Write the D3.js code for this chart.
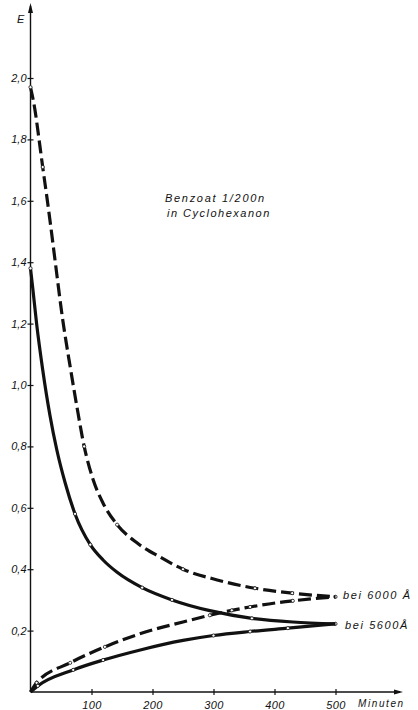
<!DOCTYPE html>
<html>
<head>
<meta charset="utf-8">
<script src="https://cdn.jsdelivr.net/npm/d3@7"></script>
<style>
  html, body { margin: 0; padding: 0; background: #fff; }
  svg { display: block; }
  text { font-family: "Liberation Sans", Arial, sans-serif; font-style: italic; fill: #111; }
</style>
</head>
<body>
<svg id="chart" width="418" height="710"></svg>
<script>
// Extinction E of benzoate 1/200n in cyclohexanone over time (minutes)
// 6000 Å: falling branch and rising branch (dashed)
const fall6000Min = [0, 7, 14, 20, 27, 33, 40, 53, 65, 76, 88, 103, 119, 142, 175, 212, 250, 306, 368, 429, 500];
const fall6000E   = [1.97, 1.90, 1.80, 1.71, 1.61, 1.52, 1.41, 1.21, 1.06, 0.93, 0.80, 0.69, 0.615, 0.545, 0.485, 0.44, 0.40, 0.365, 0.338, 0.322, 0.31];
const fall6000Dot = [1, 0, 0, 1, 0, 0, 0, 0, 0, 0, 1, 0, 0, 1, 0, 0, 1, 0, 1, 1, 1];

const rise6000Min = [0, 10, 65, 122, 191, 250, 294, 330, 360, 409, 430, 500];
const rise6000E   = [0, 0.03, 0.095, 0.147, 0.197, 0.228, 0.25, 0.266, 0.277, 0.292, 0.297, 0.31];
const rise6000Dot = [0, 1, 1, 1, 0, 0, 1, 1, 1, 0, 1, 0];

// 5600 Å: falling branch and rising branch (solid)
const fall5600Min = [0, 4, 10, 20, 32, 43, 57, 73, 98, 119, 142, 183, 232, 294, 363, 430, 500];
const fall5600E   = [1.38, 1.31, 1.20, 1.05, 0.90, 0.79, 0.68, 0.58, 0.48, 0.43, 0.39, 0.34, 0.30, 0.265, 0.24, 0.228, 0.222];
const fall5600Dot = [1, 0, 0, 0, 0, 0, 0, 1, 1, 0, 0, 1, 1, 0, 1, 0, 1];

const rise5600Min = [0, 12, 70, 119, 180, 250, 300, 360, 422, 500];
const rise5600E   = [0, 0.02, 0.072, 0.104, 0.137, 0.168, 0.184, 0.197, 0.208, 0.222];
const rise5600Dot = [0, 1, 1, 1, 0, 0, 1, 1, 1, 0];

const xTicks = [100, 200, 300, 400, 500];
const yTicks = [0.2, 0.4, 0.6, 0.8, 1.0, 1.2, 1.4, 1.6, 1.8, 2.0];
const fmtE = d => d.toFixed(1).replace(".", ",");

const svg = d3.select("#chart");
const x = d3.scaleLinear().domain([0, 500]).range([30.5, 335.5]);
const y = d3.scaleLinear().domain([0, 2]).range([692, 78]);

const ink = "#111";

// Axes with arrow heads
const x0 = x(0), y0 = y(0);
svg.append("line").attr("x1", x0).attr("y1", y0).attr("x2", x0).attr("y2", 6)
  .attr("stroke", ink).attr("stroke-width", 1.4);
svg.append("path").attr("d", `M${x0},3 L${x0 - 2.5},13 L${x0 + 2.5},13 Z`).attr("fill", ink);
svg.append("line").attr("x1", x0).attr("y1", y0).attr("x2", 400).attr("y2", y0)
  .attr("stroke", ink).attr("stroke-width", 1.4);
svg.append("path").attr("d", `M403,${y0} L394,${y0 - 2.5} L394,${y0 + 2.5} Z`).attr("fill", ink);

// Tick marks and labels
const yAxis = d3.axisLeft(y).tickValues(yTicks).tickFormat(fmtE).tickSize(3).tickPadding(3);
const gy = svg.append("g").attr("transform", `translate(${x0},0)`).call(yAxis);
gy.select(".domain").remove();
gy.selectAll(".tick line").attr("x2", 3).attr("x1", -3).attr("stroke", ink).attr("stroke-width", 1.2);
gy.selectAll(".tick text").attr("font-size", 11).attr("font-family", "Liberation Sans, Arial, sans-serif")
  .attr("font-style", "italic").attr("fill", ink).attr("x", -4);

const xAxis = d3.axisBottom(x).tickValues(xTicks).tickSize(3).tickPadding(6);
const gx = svg.append("g").attr("transform", `translate(0,${y0})`).call(xAxis);
gx.select(".domain").remove();
gx.selectAll(".tick line").attr("y1", -3).attr("y2", 3).attr("stroke", ink).attr("stroke-width", 1.2);
gx.selectAll(".tick text").attr("font-size", 11).attr("font-family", "Liberation Sans, Arial, sans-serif")
  .attr("font-style", "italic").attr("fill", ink).attr("letter-spacing", 0.4);

svg.append("text").attr("x", 17).attr("y", 23).attr("font-size", 11).text("E");
svg.append("text").attr("x", 358).attr("y", 707).attr("font-size", 10).attr("letter-spacing", 1.6).text("Minuten");

// Curves
const series = [
  { t: fall6000Min, e: fall6000E, dot: fall6000Dot, dash: "13,5" },
  { t: rise6000Min, e: rise6000E, dot: rise6000Dot, dash: "13,5" },
  { t: fall5600Min, e: fall5600E, dot: fall5600Dot, dash: null },
  { t: rise5600Min, e: rise5600E, dot: rise5600Dot, dash: null }
];
const line = d3.line().x(d => x(d[0])).y(d => y(d[1])).curve(d3.curveMonotoneX);

series.forEach(s => {
  const pts = s.t.map((t, i) => [t, s.e[i], s.dot[i]]);
  svg.append("path").datum(pts).attr("d", line)
    .attr("fill", "none").attr("stroke", ink).attr("stroke-width", 3.2)
    .attr("stroke-linecap", "butt")
    .attr("stroke-dasharray", s.dash);
  svg.selectAll(null).data(pts.filter(p => p[2])).enter().append("circle")
    .attr("cx", d => x(d[0])).attr("cy", d => y(d[1])).attr("r", 1.6)
    .attr("fill", "#fff").attr("stroke", ink).attr("stroke-width", 0.8);
});

// Labels
svg.append("text").attr("x", 343).attr("y", 599).attr("font-size", 11).attr("letter-spacing", 1.6).text("bei 6000 Å");
svg.append("text").attr("x", 345).attr("y", 629).attr("font-size", 11).attr("letter-spacing", 1.6).text("bei 5600Å");
svg.append("text").attr("x", 165).attr("y", 202).attr("font-size", 11).attr("letter-spacing", 1.7).text("Benzoat 1/200n");
svg.append("text").attr("x", 167).attr("y", 217).attr("font-size", 11).attr("letter-spacing", 1.5).text("in Cyclohexanon");
</script>
</body>
</html>
